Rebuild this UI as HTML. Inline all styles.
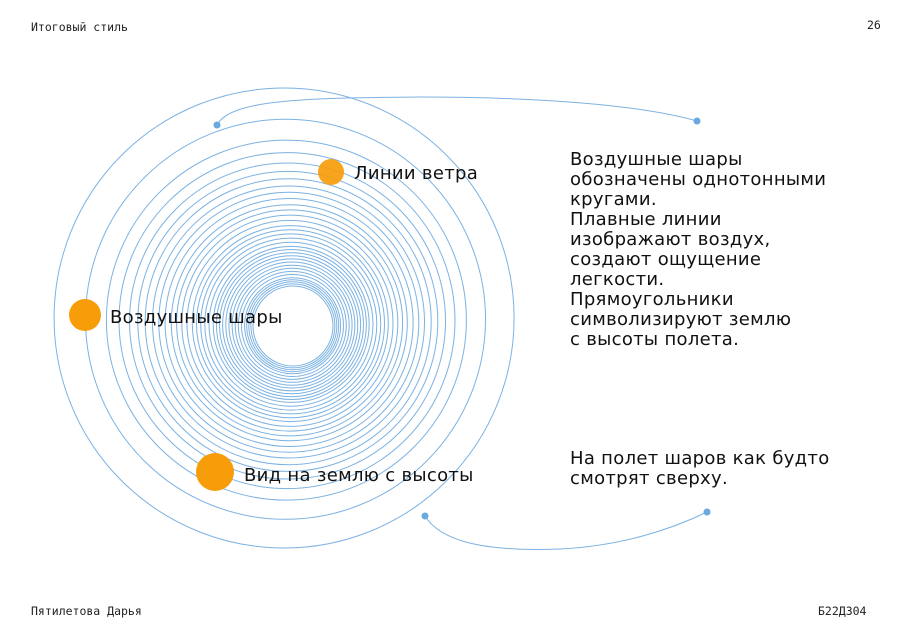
<!DOCTYPE html>
<html><head><meta charset="utf-8"><style>
body{margin:0;width:900px;height:638px;background:#fff;overflow:hidden;position:relative;font-family:"DejaVu Sans","Liberation Sans",sans-serif;color:#111}
.mono{font-family:"DejaVu Sans Mono","Liberation Mono",monospace;font-size:11.5px;position:absolute;color:#222}
.t{position:absolute;font-size:18px;line-height:20px;color:#111;letter-spacing:0.3px}
</style></head><body>
<div class="mono" style="left:31px;top:20px">Итоговый стиль</div>
<div class="mono" style="left:867px;top:18px">26</div>
<div class="mono" style="left:31px;top:604px">Пятилетова Дарья</div>
<div class="mono" style="left:818px;top:604px">Б22Д304</div>
<svg width="900" height="638" style="position:absolute;left:0;top:0" fill="none" stroke="#7cb2e2" stroke-width="1">
<circle cx="284.1" cy="318" r="230"/><circle cx="285.5" cy="319.3" r="200"/><circle cx="286.4" cy="320.1" r="180"/><circle cx="287" cy="320.6" r="168"/><circle cx="287.5" cy="321" r="158"/><circle cx="287.8" cy="321.4" r="150"/><circle cx="288.2" cy="321.7" r="143"/><circle cx="288.5" cy="322" r="136"/><circle cx="288.8" cy="322.2" r="130"/><circle cx="289.1" cy="322.5" r="124"/><circle cx="289.3" cy="322.7" r="118"/><circle cx="289.6" cy="322.9" r="113"/><circle cx="289.8" cy="323.1" r="108"/><circle cx="290" cy="323.4" r="103"/><circle cx="290.3" cy="323.6" r="98"/><circle cx="290.5" cy="323.7" r="94"/><circle cx="290.7" cy="323.9" r="90"/><circle cx="290.8" cy="324.1" r="86"/><circle cx="291" cy="324.2" r="82"/><circle cx="291.2" cy="324.4" r="78"/><circle cx="291.4" cy="324.5" r="75"/><circle cx="291.5" cy="324.7" r="72"/><circle cx="291.6" cy="324.8" r="69"/><circle cx="291.8" cy="324.9" r="66"/><circle cx="291.9" cy="325" r="63"/><circle cx="292.1" cy="325.2" r="60"/><circle cx="292.2" cy="325.3" r="57"/><circle cx="292.3" cy="325.4" r="54"/><circle cx="292.5" cy="325.5" r="51"/><circle cx="292.6" cy="325.7" r="48"/><circle cx="292.7" cy="325.7" r="46"/><circle cx="292.8" cy="325.8" r="44"/><circle cx="292.9" cy="325.9" r="42"/><circle cx="293" cy="326" r="40"/>
<path d="M217 125 C230 100,300 98,420 97 C540 97,640 105,697 121"/>
<path d="M425 516 C440 540,480 552,560 549 C620 546,670 530,707 512"/>
<g fill="#6aa8e0" stroke="none"><circle cx="217" cy="125" r="3.5"/><circle cx="697" cy="121" r="3.5"/><circle cx="425" cy="516" r="3.5"/><circle cx="707" cy="512" r="3.5"/></g>
<g fill="#f79d0a" stroke="none"><circle cx="331" cy="172" r="13" opacity="0.92"/><circle cx="85" cy="315" r="16"/><circle cx="215" cy="472" r="19"/></g>
</svg>
<div class="t" style="left:354px;top:164px">Линии ветра</div>
<div class="t" style="left:110px;top:308px">Воздушные шары</div>
<div class="t" style="left:244px;top:466px">Вид на землю с высоты</div>
<div class="t" style="left:570px;top:150px">Воздушные шары<br>обозначены однотонными<br>кругами.<br>Плавные линии<br>изображают воздух,<br>создают ощущение<br>легкости.<br>Прямоугольники<br>символизируют землю<br>с высоты полета.</div>
<div class="t" style="left:570px;top:449px">На полет шаров как будто<br>смотрят сверху.</div>
</body></html>
